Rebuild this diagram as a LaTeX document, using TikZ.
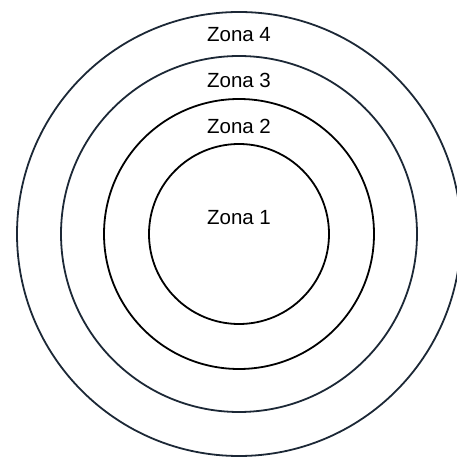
\documentclass[tikz,border=0pt]{standalone}
\usepackage{fontspec}
\setmainfont{Liberation Sans}
\definecolor{ringslate}{RGB}{28,40,54}
\begin{document}
\begin{tikzpicture}[
        x=1pt,
        y=1pt,
        ring/.style={draw=black, circle, line width=1.8pt, inner sep=0pt},
        outerring/.style={ring, draw=ringslate},
        zonelabel/.style={font=\fontsize{20.5}{24}\selectfont, inner sep=0pt},
      ]
        \useasboundingbox (0,0) rectangle (457,457);
        \coordinate (c) at (239,223);

        \node[ring, minimum size=180] (z1) at (c) {};
        \node[ring, minimum size=270] (z2) at (c) {};
        \node[outerring, minimum size=356] (z3) at (c) {};
        \node[outerring, minimum size=444] (z4) at (c) {};

        \node[zonelabel] (l1) at (239,239) {Zona 1};
        \node[zonelabel] (l2) at (239,331) {Zona 2};
        \node[zonelabel] (l3) at (239,377) {Zona 3};
        \node[zonelabel] (l4) at (239,422) {Zona 4};
      \end{tikzpicture}
\end{document}
